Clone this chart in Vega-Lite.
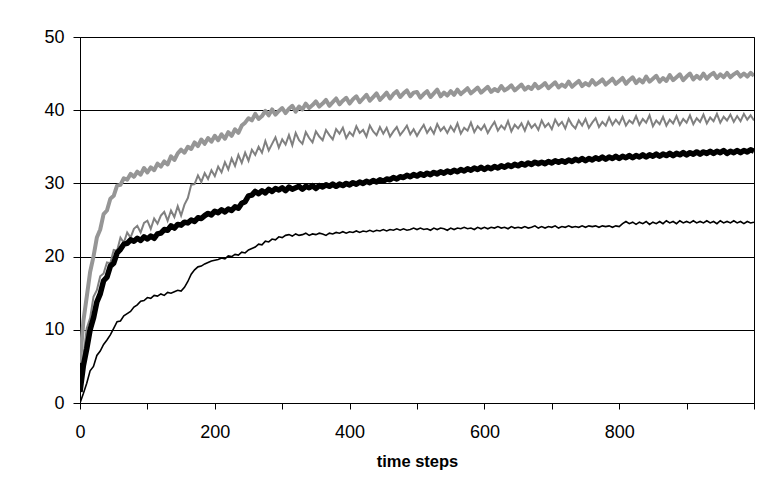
{
  "$schema": "https://vega.github.io/schema/vega-lite/v6.json",
  "width": 674,
  "height": 366,
  "autosize": {"type": "none"},
  "padding": {"left": 80, "top": 37, "right": 5, "bottom": 79},
  "background": "white",
  "config": {
    "font": "Liberation Sans",
    "view": {"stroke": "#000000", "strokeWidth": 1},
    "axis": {"labelColor": "#000000", "titleColor": "#000000", "domainColor": "#000000", "tickColor": "#000000", "labelFont": "Liberation Sans", "titleFont": "Liberation Sans"}
  },
  "data": {"values": [
    {"t":0,"A":5.5,"B":2.5,"C":1.5,"D":0},
    {"t":5,"A":11.2,"B":6.3,"C":5.1,"D":1.3},
    {"t":10,"A":14.5,"B":10.2,"C":7.4,"D":2.7},
    {"t":15,"A":17.9,"B":11.6,"C":10,"D":4.4},
    {"t":20,"A":20,"B":14.5,"C":11.6,"D":5},
    {"t":25,"A":22.6,"B":15.4,"C":13.8,"D":6.5},
    {"t":30,"A":23.7,"B":17.3,"C":14.9,"D":7.1},
    {"t":35,"A":25.8,"B":17.7,"C":16.7,"D":8},
    {"t":40,"A":26.3,"B":19.2,"C":17.2,"D":8.6},
    {"t":45,"A":27.9,"B":19.1,"C":18.7,"D":9.3},
    {"t":50,"A":28.3,"B":20.9,"C":19.1,"D":10.2},
    {"t":55,"A":29.7,"B":20.8,"C":20.5,"D":11.1},
    {"t":60,"A":29.8,"B":22.6,"C":21,"D":11.2},
    {"t":65,"A":30.7,"B":21.9,"C":21.7,"D":11.9},
    {"t":70,"A":30.5,"B":23.3,"C":21.8,"D":12.2},
    {"t":75,"A":31.3,"B":22.6,"C":22.3,"D":12.5},
    {"t":80,"A":30.9,"B":23.8,"C":22.1,"D":13.1},
    {"t":85,"A":31.6,"B":24.2,"C":22.5,"D":13.4},
    {"t":90,"A":31.2,"B":23.3,"C":22.2,"D":13.9},
    {"t":95,"A":32.1,"B":24.6,"C":22.7,"D":14},
    {"t":100,"A":31.5,"B":24.9,"C":22.4,"D":14.4},
    {"t":105,"A":32.2,"B":23.8,"C":22.8,"D":14.3},
    {"t":110,"A":31.8,"B":25.2,"C":22.5,"D":14.7},
    {"t":115,"A":32.7,"B":24.5,"C":23.1,"D":14.6},
    {"t":120,"A":32.3,"B":25.6,"C":23.2,"D":14.9},
    {"t":125,"A":33,"B":26.1,"C":23.7,"D":14.7},
    {"t":130,"A":32.6,"B":24.9,"C":23.6,"D":15.1},
    {"t":135,"A":33.7,"B":26.3,"C":24.2,"D":15},
    {"t":140,"A":33.2,"B":25.4,"C":23.9,"D":15.2},
    {"t":145,"A":34.1,"B":26.9,"C":24.4,"D":15.4},
    {"t":150,"A":34.6,"B":25.6,"C":24.3,"D":15.3},
    {"t":155,"A":34.2,"B":27.1,"C":24.7,"D":15.8},
    {"t":160,"A":35,"B":28,"C":24.6,"D":16.6},
    {"t":165,"A":34.7,"B":29.8,"C":25,"D":17.6},
    {"t":170,"A":35.6,"B":29.9,"C":24.8,"D":18.2},
    {"t":175,"A":35.1,"B":31.1,"C":25.3,"D":18.6},
    {"t":180,"A":36,"B":30.2,"C":25.2,"D":18.7},
    {"t":185,"A":35.4,"B":31.4,"C":25.6,"D":19},
    {"t":190,"A":36.2,"B":30.6,"C":25.9,"D":19.2},
    {"t":195,"A":35.7,"B":31.8,"C":25.7,"D":19.4},
    {"t":200,"A":36.5,"B":31,"C":26.2,"D":19.5},
    {"t":205,"A":35.9,"B":32.3,"C":26,"D":19.6},
    {"t":210,"A":36.7,"B":31.5,"C":26.4,"D":19.8},
    {"t":215,"A":36.1,"B":32.9,"C":26.1,"D":19.7},
    {"t":220,"A":37,"B":31.9,"C":26.5,"D":20.1},
    {"t":225,"A":36.5,"B":33.4,"C":26.3,"D":20},
    {"t":230,"A":37.4,"B":32.4,"C":26.8,"D":20.3},
    {"t":235,"A":36.9,"B":33.9,"C":26.6,"D":20.2},
    {"t":240,"A":37.9,"B":32.8,"C":27.3,"D":20.6},
    {"t":245,"A":38.3,"B":34.2,"C":27.5,"D":20.5},
    {"t":250,"A":38.9,"B":33.1,"C":28.3,"D":20.9},
    {"t":255,"A":38.6,"B":34.6,"C":28.4,"D":21.1},
    {"t":260,"A":39.5,"B":33.9,"C":28.9,"D":21.3},
    {"t":265,"A":38.8,"B":35,"C":28.6,"D":21.7},
    {"t":270,"A":39.2,"B":34.2,"C":29,"D":21.6},
    {"t":275,"A":39.9,"B":35.8,"C":28.7,"D":22.1},
    {"t":280,"A":39.3,"B":34.5,"C":29.2,"D":22},
    {"t":285,"A":40.1,"B":35.4,"C":28.9,"D":22.4},
    {"t":290,"A":39.4,"B":36.3,"C":29.3,"D":22.3},
    {"t":295,"A":39.9,"B":34.9,"C":29.1,"D":22.7},
    {"t":300,"A":40.3,"B":36,"C":29.4,"D":22.6},
    {"t":305,"A":39.6,"B":35.3,"C":29,"D":22.9},
    {"t":310,"A":40.2,"B":36.6,"C":29.5,"D":23},
    {"t":315,"A":40.6,"B":35.2,"C":29.2,"D":22.8},
    {"t":320,"A":39.8,"B":36.9,"C":29.4,"D":23.1},
    {"t":325,"A":40.5,"B":35.9,"C":29.6,"D":22.9},
    {"t":330,"A":40.1,"B":35.4,"C":29.2,"D":23},
    {"t":335,"A":40.9,"B":37,"C":29.6,"D":23.2},
    {"t":340,"A":40.3,"B":36.2,"C":29.4,"D":22.9},
    {"t":345,"A":40.7,"B":35.6,"C":29.7,"D":23.1},
    {"t":350,"A":41.2,"B":37.1,"C":29.3,"D":23},
    {"t":355,"A":40.5,"B":36.4,"C":29.7,"D":23.2},
    {"t":360,"A":40.9,"B":35.9,"C":29.5,"D":23.1},
    {"t":365,"A":41.4,"B":37.3,"C":29.8,"D":22.9},
    {"t":370,"A":40.6,"B":36.6,"C":29.6,"D":23.2},
    {"t":375,"A":41.1,"B":36,"C":29.9,"D":23.1},
    {"t":380,"A":41.6,"B":37.4,"C":29.6,"D":23.3},
    {"t":385,"A":40.8,"B":36.8,"C":29.9,"D":23.2},
    {"t":390,"A":41.3,"B":37.6,"C":29.7,"D":23.4},
    {"t":395,"A":41.7,"B":36.2,"C":30,"D":23.2},
    {"t":400,"A":40.9,"B":37,"C":29.8,"D":23.4},
    {"t":405,"A":41.5,"B":36.5,"C":30.1,"D":23.3},
    {"t":410,"A":41.9,"B":37.8,"C":29.9,"D":23.5},
    {"t":415,"A":41.1,"B":36.9,"C":30.2,"D":23.3},
    {"t":420,"A":41.6,"B":37.3,"C":30,"D":23.5},
    {"t":425,"A":42.1,"B":36.4,"C":30.3,"D":23.4},
    {"t":430,"A":41.3,"B":37.9,"C":30.1,"D":23.6},
    {"t":435,"A":41.8,"B":37.1,"C":30.4,"D":23.4},
    {"t":440,"A":42.3,"B":36.6,"C":30.2,"D":23.6},
    {"t":445,"A":41.4,"B":37.7,"C":30.5,"D":23.5},
    {"t":450,"A":41.9,"B":36.8,"C":30.3,"D":23.7},
    {"t":455,"A":42.4,"B":37.6,"C":30.6,"D":23.5},
    {"t":460,"A":41.6,"B":36.4,"C":30.5,"D":23.7},
    {"t":465,"A":42.2,"B":37.1,"C":30.8,"D":23.6},
    {"t":470,"A":42.6,"B":37.7,"C":30.6,"D":23.8},
    {"t":475,"A":41.8,"B":36.6,"C":30.9,"D":23.6},
    {"t":480,"A":42.3,"B":37.2,"C":30.8,"D":23.8},
    {"t":485,"A":42.7,"B":37.9,"C":31.1,"D":23.6},
    {"t":490,"A":41.9,"B":36.7,"C":30.9,"D":23.7},
    {"t":495,"A":42.4,"B":37.4,"C":31.2,"D":23.9},
    {"t":500,"A":42.5,"B":36.5,"C":31,"D":23.7},
    {"t":505,"A":41.7,"B":37.3,"C":31.3,"D":23.9},
    {"t":510,"A":42.2,"B":38,"C":31.1,"D":23.7},
    {"t":515,"A":42.6,"B":36.9,"C":31.4,"D":23.8},
    {"t":520,"A":41.8,"B":37.6,"C":31.2,"D":23.6},
    {"t":525,"A":42.3,"B":36.8,"C":31.5,"D":23.9},
    {"t":530,"A":42.8,"B":38.1,"C":31.3,"D":23.7},
    {"t":535,"A":41.9,"B":37.2,"C":31.6,"D":23.9},
    {"t":540,"A":42.4,"B":37.7,"C":31.4,"D":23.8},
    {"t":545,"A":42,"B":36.9,"C":31.7,"D":23.6},
    {"t":550,"A":42.6,"B":37.8,"C":31.5,"D":23.9},
    {"t":555,"A":42.1,"B":37.1,"C":31.8,"D":23.7},
    {"t":560,"A":42.8,"B":38.2,"C":31.6,"D":23.9},
    {"t":565,"A":42.2,"B":36.8,"C":31.9,"D":23.8},
    {"t":570,"A":42.6,"B":37.6,"C":31.7,"D":24},
    {"t":575,"A":43,"B":37.2,"C":32,"D":23.8},
    {"t":580,"A":42.3,"B":38.3,"C":31.8,"D":23.9},
    {"t":585,"A":42.7,"B":37,"C":32.1,"D":23.7},
    {"t":590,"A":43.1,"B":37.8,"C":31.9,"D":24},
    {"t":595,"A":42.4,"B":37.3,"C":32.2,"D":23.8},
    {"t":600,"A":42.8,"B":38,"C":31.9,"D":24},
    {"t":605,"A":43.2,"B":36.9,"C":32.2,"D":23.8},
    {"t":610,"A":42.5,"B":37.7,"C":32,"D":24},
    {"t":615,"A":42.9,"B":38.4,"C":32.3,"D":23.9},
    {"t":620,"A":42.6,"B":37.2,"C":32.1,"D":24.1},
    {"t":625,"A":43.3,"B":37.9,"C":32.4,"D":23.9},
    {"t":630,"A":42.7,"B":37.4,"C":32.2,"D":24},
    {"t":635,"A":43,"B":38.5,"C":32.5,"D":23.8},
    {"t":640,"A":43.4,"B":37.1,"C":32.3,"D":24.1},
    {"t":645,"A":42.7,"B":38,"C":32.6,"D":23.9},
    {"t":650,"A":43.1,"B":37.5,"C":32.4,"D":24},
    {"t":655,"A":43.5,"B":38.2,"C":32.7,"D":23.9},
    {"t":660,"A":42.8,"B":37.2,"C":32.5,"D":24.1},
    {"t":665,"A":43.2,"B":38.4,"C":32.8,"D":23.9},
    {"t":670,"A":42.9,"B":37.6,"C":32.6,"D":24},
    {"t":675,"A":43.6,"B":38.1,"C":32.9,"D":24.2},
    {"t":680,"A":43,"B":37.3,"C":32.7,"D":23.9},
    {"t":685,"A":43.3,"B":38.6,"C":32.9,"D":24.1},
    {"t":690,"A":43.7,"B":37.7,"C":32.7,"D":23.9},
    {"t":695,"A":43,"B":38.2,"C":33,"D":24.1},
    {"t":700,"A":43.4,"B":37.4,"C":32.8,"D":24},
    {"t":705,"A":43.8,"B":38.7,"C":33.1,"D":24.2},
    {"t":710,"A":43.1,"B":37.9,"C":32.9,"D":23.9},
    {"t":715,"A":43.5,"B":38.4,"C":33.1,"D":24.1},
    {"t":720,"A":43.2,"B":37.5,"C":32.9,"D":24},
    {"t":725,"A":43.9,"B":38.8,"C":33.2,"D":24.2},
    {"t":730,"A":43.2,"B":38,"C":33,"D":24},
    {"t":735,"A":43.6,"B":37.5,"C":33.3,"D":24.1},
    {"t":740,"A":44,"B":38.6,"C":33.1,"D":24},
    {"t":745,"A":43.3,"B":37.9,"C":33.4,"D":24.2},
    {"t":750,"A":43.7,"B":38.8,"C":33.1,"D":24},
    {"t":755,"A":43.4,"B":37.6,"C":33.4,"D":24.2},
    {"t":760,"A":44.1,"B":38.3,"C":33.2,"D":24.1},
    {"t":765,"A":43.5,"B":38.9,"C":33.5,"D":24.2},
    {"t":770,"A":43.8,"B":37.7,"C":33.3,"D":24},
    {"t":775,"A":44.2,"B":38.4,"C":33.6,"D":24.2},
    {"t":780,"A":43.5,"B":37.9,"C":33.3,"D":24.1},
    {"t":785,"A":43.9,"B":39,"C":33.6,"D":24.2},
    {"t":790,"A":44.3,"B":38,"C":33.4,"D":24},
    {"t":795,"A":43.6,"B":38.7,"C":33.7,"D":24.2},
    {"t":800,"A":44,"B":38.1,"C":33.4,"D":24.1},
    {"t":805,"A":44.4,"B":39.1,"C":33.7,"D":24.5},
    {"t":810,"A":43.6,"B":37.9,"C":33.5,"D":24.8},
    {"t":815,"A":44.1,"B":38.6,"C":33.8,"D":24.5},
    {"t":820,"A":44.5,"B":38.2,"C":33.5,"D":24.7},
    {"t":825,"A":43.7,"B":39.2,"C":33.8,"D":24.4},
    {"t":830,"A":44.2,"B":38,"C":33.6,"D":24.7},
    {"t":835,"A":43.8,"B":38.8,"C":33.9,"D":24.5},
    {"t":840,"A":44.6,"B":38.3,"C":33.6,"D":24.8},
    {"t":845,"A":43.9,"B":39.3,"C":33.9,"D":24.4},
    {"t":850,"A":44.3,"B":37.8,"C":33.7,"D":24.7},
    {"t":855,"A":44.7,"B":38.6,"C":34,"D":24.5},
    {"t":860,"A":43.9,"B":38.1,"C":33.7,"D":24.8},
    {"t":865,"A":44.4,"B":39.1,"C":34,"D":24.5},
    {"t":870,"A":44,"B":37.9,"C":33.8,"D":24.9},
    {"t":875,"A":44.8,"B":38.7,"C":34.1,"D":24.6},
    {"t":880,"A":44.1,"B":38.2,"C":33.8,"D":24.8},
    {"t":885,"A":44.5,"B":39.2,"C":34.1,"D":24.5},
    {"t":890,"A":44.9,"B":38,"C":33.9,"D":24.9},
    {"t":895,"A":44.1,"B":38.8,"C":34.2,"D":24.6},
    {"t":900,"A":44.6,"B":38.3,"C":33.9,"D":24.8},
    {"t":905,"A":45,"B":39.3,"C":34.2,"D":24.6},
    {"t":910,"A":44.2,"B":38.1,"C":34,"D":24.9},
    {"t":915,"A":44.7,"B":38.9,"C":34.3,"D":24.6},
    {"t":920,"A":44.3,"B":38.4,"C":34,"D":24.8},
    {"t":925,"A":45,"B":39.4,"C":34.3,"D":24.6},
    {"t":930,"A":44.3,"B":38.2,"C":34.1,"D":24.9},
    {"t":935,"A":44.8,"B":39,"C":34.4,"D":24.6},
    {"t":940,"A":45.1,"B":38.5,"C":34.1,"D":24.8},
    {"t":945,"A":44.4,"B":39.5,"C":34.4,"D":24.5},
    {"t":950,"A":44.9,"B":38.3,"C":34.2,"D":24.9},
    {"t":955,"A":44.5,"B":39.1,"C":34.5,"D":24.6},
    {"t":960,"A":45.1,"B":38.6,"C":34.1,"D":24.8},
    {"t":965,"A":44.5,"B":39.4,"C":34.4,"D":24.6},
    {"t":970,"A":44.9,"B":38.4,"C":34.2,"D":24.9},
    {"t":975,"A":45.2,"B":39.2,"C":34.5,"D":24.6},
    {"t":980,"A":44.6,"B":38.5,"C":34.2,"D":24.8},
    {"t":985,"A":45,"B":39.5,"C":34.5,"D":24.5},
    {"t":990,"A":44.6,"B":38.7,"C":34.3,"D":24.8},
    {"t":995,"A":45.1,"B":39.3,"C":34.6,"D":24.6},
    {"t":1000,"A":44.7,"B":38.6,"C":34.4,"D":24.7}
  ]},
  "encoding": {
    "x": {
      "field": "t", "type": "quantitative",
      "scale": {"domain": [0, 1000], "nice": false},
      "axis": {
        "title": "time steps", "titleFontSize": 16.5, "titleFontWeight": "bold", "titlePadding": 12,
        "values": [0, 100, 200, 300, 400, 500, 600, 700, 800, 900, 1000],
        "labelExpr": "(datum.value % 200 === 0 && datum.value < 1000) ? datum.label : ''",
        "labelFontSize": 18, "labelPadding": 14, "tickSize": 6, "grid": false, "labelFlush": false, "labelOverlap": false
      }
    }
  },
  "layer": [
    {
      "mark": {"type": "line", "color": "#969696", "strokeWidth": 4, "strokeJoin": "round", "clip": true},
      "encoding": {
        "y": {
          "field": "A", "type": "quantitative",
          "scale": {"domain": [0, 50], "nice": false},
          "axis": {"title": null, "values": [0, 10, 20, 30, 40, 50], "labelFontSize": 18, "labelPadding": 9, "tickSize": 7, "grid": true, "gridColor": "#000000", "gridWidth": 1, "gridOpacity": 1}
        }
      }
    },
    {
      "mark": {"type": "line", "color": "#808080", "strokeWidth": 2, "clip": true},
      "encoding": {"y": {"field": "B", "type": "quantitative"}}
    },
    {
      "mark": {"type": "line", "color": "#000000", "strokeWidth": 5.5, "strokeJoin": "round", "clip": true},
      "encoding": {"y": {"field": "C", "type": "quantitative"}}
    },
    {
      "mark": {"type": "line", "color": "#000000", "strokeWidth": 1.6, "clip": true},
      "encoding": {"y": {"field": "D", "type": "quantitative"}}
    }
  ]
}
